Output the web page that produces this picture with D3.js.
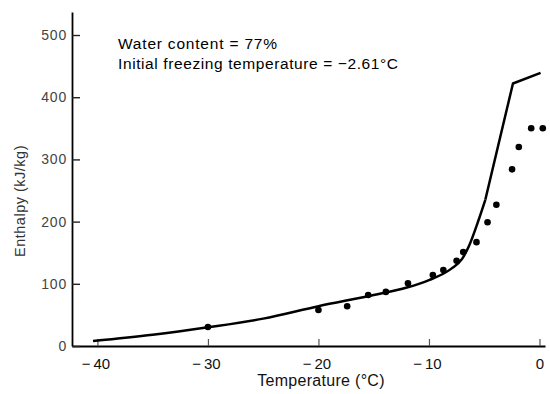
<!DOCTYPE html>
<html><head><meta charset="utf-8">
<script src="https://cdn.jsdelivr.net/npm/d3@7"></script>
<style>body{margin:0;background:#fff}svg{display:block}</style>
</head><body>
<script>
// Data
const xTicks = [-40, -30, -20, -10, 0];
const yTicks = [0, 100, 200, 300, 400, 500];
const curveTemp = [-40.4, -35, -30, -25, -20, -15, -12, -10, -8, -7, -6.4, -5.5, -4.9];
const curveEnth = [8, 18, 30, 44, 64, 82, 94, 106, 124, 140, 160, 203, 235];
const kneeTemp = [-4.9, -2.4, 0.1];
const kneeEnth = [235, 422, 439];
const measTemp = [-30, -20, -17.4, -15.5, -13.9, -11.9, -9.65, -8.7, -7.5, -6.9, -5.7, -4.7, -3.9, -2.48, -1.87, -0.75, 0.3];
const measEnth = [30.5, 58, 64, 82, 87, 101, 114, 122, 137, 151, 167, 199, 227, 284, 320, 350, 350];
const annotations = ["Water content = 77%", "Initial freezing temperature = \u22122.61\u00B0C"];

const W = 550, H = 394;
const svg = d3.select("body").append("svg").attr("width", W).attr("height", H);
const x = d3.scaleLinear().domain([-42.3, 0.5]).range([72, 545]);
const y = d3.scaleLinear().domain([0, 537]).range([346, 12]);

const font = "Liberation Sans, Arial, sans-serif";

// axes
const xAxis = d3.axisBottom(x).tickValues(xTicks).tickSizeInner(-7).tickSizeOuter(0)
  .tickFormat(d => d < 0 ? "\u2212\u2009" + Math.abs(d) : d).tickPadding(12);
const gx = svg.append("g").attr("transform", `translate(0,${y(0)})`).call(xAxis);
gx.select(".domain").attr("stroke", "#000").attr("stroke-width", 2);
gx.selectAll(".tick line").attr("stroke", "#555").attr("stroke-width", 1.2);
gx.selectAll("text").attr("font-family", font).attr("font-size", 15).attr("fill", "#111")
  .attr("dx", d => d < 0 ? -2 : 0);

const yAxis = d3.axisLeft(y).tickValues(yTicks).tickSizeInner(-8).tickSizeOuter(0).tickPadding(5);
const gy = svg.append("g").attr("transform", `translate(${x(-42.3)},0)`).call(yAxis);
gy.select(".domain").attr("stroke", "#000").attr("stroke-width", 1.8);
gy.selectAll(".tick line").attr("stroke", "#222").attr("stroke-width", 1.4);
gy.selectAll("text").attr("font-family", font).attr("font-size", 14).attr("fill", "#444")
  .attr("letter-spacing", 0.8);

// axis titles
svg.append("text").attr("x", 321).attr("y", 386).attr("text-anchor", "middle")
  .attr("font-family", font).attr("font-size", 16).attr("letter-spacing", 0.3).attr("fill", "#111").text("Temperature (\u00B0C)");
svg.append("text").attr("transform", "translate(25,201) rotate(-90)").attr("text-anchor", "middle")
  .attr("font-family", font).attr("font-size", 14.5).attr("letter-spacing", 0.5).attr("fill", "#333").text("Enthalpy (kJ/kg)");

// curve
const pts1 = curveTemp.map((t, i) => [t, curveEnth[i]]);
const pts2 = kneeTemp.map((t, i) => [t, kneeEnth[i]]);
svg.append("path").datum(pts1)
  .attr("d", d3.line().x(d => x(d[0])).y(d => y(d[1])).curve(d3.curveMonotoneX))
  .attr("fill", "none").attr("stroke", "#000").attr("stroke-width", 2.5);
svg.append("path").datum(pts2)
  .attr("d", d3.line().x(d => x(d[0])).y(d => y(d[1])))
  .attr("fill", "none").attr("stroke", "#000").attr("stroke-width", 2.5).attr("stroke-linejoin", "round");

// measured points
svg.append("g").selectAll("circle").data(measTemp.map((t, i) => [t, measEnth[i]])).join("circle")
  .attr("cx", d => x(d[0])).attr("cy", d => y(d[1])).attr("r", 3.3).attr("fill", "#000");

// annotations
svg.append("g").selectAll("text").data(annotations).join("text")
  .attr("x", 118).attr("y", (d, i) => 49 + i * 19.5)
  .attr("font-family", font).attr("font-size", 15.5).attr("letter-spacing", (d, i) => i ? 0.6 : 0.8)
  .attr("fill", "#000").text(d => d);
</script>
</body></html>
